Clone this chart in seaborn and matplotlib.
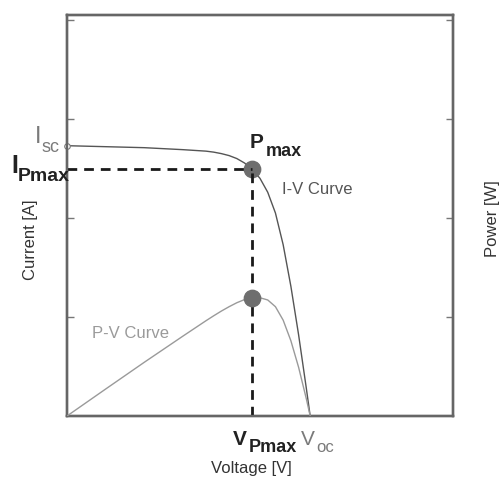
import matplotlib
matplotlib.use("Agg")
import matplotlib.pyplot as plt
import seaborn as sns
import pandas as pd

# I-V characteristic of the cell
voltage = [0.0, 0.5, 1.0, 1.5, 1.8, 1.9, 2.0, 2.1, 2.2, 2.3, 2.4, 2.5, 2.6, 2.7, 2.8, 2.9, 3.0, 3.1, 3.15]
current = [2.73, 2.72, 2.71, 2.69, 2.675, 2.665, 2.65, 2.63, 2.60, 2.555, 2.49, 2.40, 2.26, 2.05, 1.73, 1.31, 0.82, 0.28, 0.0]
# P-V characteristic
power = [0.0, 1.36, 2.71, 4.03, 4.81, 5.06, 5.30, 5.52, 5.72, 5.88, 5.98, 5.97, 5.86, 5.52, 4.84, 3.80, 2.46, 0.87, 0.0]

# Operating points
v_pmax = 2.4
i_pmax = 2.49
p_max = 5.98
i_sc = 2.73
v_oc = 3.15

x_ticks = [1, 2, 3, 4]
i_ticks = [1, 2, 3, 4]
p_ticks = [5, 10, 15, 20]

iv = pd.DataFrame({"Voltage": voltage, "Current": current})
pv = pd.DataFrame({"Voltage": voltage, "Power": power})

sns.set_theme(style="white")
plt.rcParams["font.family"] = ["Liberation Sans", "DejaVu Sans"]

W, H = 501, 478
fig = plt.figure(figsize=(W / 100, H / 100), dpi=100)
ax = fig.add_axes([67 / W, 1 - 416 / H, (453 - 67) / W, (416 - 15) / H])
ax2 = ax.twinx()

spine_c = "#666666"
for a in (ax, ax2):
    for s in a.spines.values():
        s.set_color(spine_c)
        s.set_linewidth(1.7)
    a.set_facecolor("none")

ax.set_xlim(0, 5)
ax.set_ylim(0, 4.05)
ax2.set_ylim(0, 20.25)

ax.set_xticks(x_ticks)
ax.set_yticks(i_ticks)
ax2.set_yticks(p_ticks)
ax.tick_params(axis="both", direction="in", length=5, width=1, color="#777777",
               labelbottom=False, labelleft=False)
ax2.tick_params(axis="y", direction="in", length=5, width=1, color="#777777",
                labelright=False)

# Curves
sns.lineplot(data=iv, x="Voltage", y="Current", ax=ax, color="#555555",
             linewidth=1.0, sort=False, zorder=3)
sns.lineplot(data=pv, x="Voltage", y="Power", ax=ax2, color="#9a9a9a",
             linewidth=1.0, sort=False, zorder=3)
ax.set_xlabel("")
ax.set_ylabel("")
ax2.set_ylabel("")

# Maximum power point markers
sns.scatterplot(x=[v_pmax], y=[i_pmax], ax=ax, s=140, color="#6e6e6e",
                edgecolor="#6e6e6e", zorder=4)
sns.scatterplot(x=[v_pmax], y=[p_max], ax=ax2, s=140, color="#6e6e6e",
                edgecolor="#6e6e6e", zorder=4)
ax.plot([0], [i_sc], marker="o", ms=4, mfc="white", mec="#777777", mew=0.8,
        clip_on=False, zorder=6)

# Dashed guides to the MPP
ax.plot([0, v_pmax], [i_pmax, i_pmax], ls=(0, (3.5, 2.5)), color="#1a1a1a",
        lw=2.0, zorder=5)
ax.plot([v_pmax, v_pmax], [0, i_pmax], ls=(0, (3.5, 2.5)), color="#1a1a1a",
        lw=2.0, zorder=5)


def ftxt(x, y, s, **kw):
    fig.text(x / W, 1 - y / H, s, **kw)


dark = "#222222"
grey = "#7a7a7a"

# Symbol labels with subscripts
ftxt(35, 143, "I", fontsize=17, color=grey, va="baseline", ha="left")
ftxt(41, 152, "sc", fontsize=13, color=grey, va="baseline", ha="left")

ftxt(11, 173, "I", fontsize=18, color=dark, va="baseline", ha="left", fontweight="bold")
ftxt(18, 181, "Pmax", fontsize=14, color=dark, va="baseline", ha="left", fontweight="bold")

ftxt(250, 148, "P", fontsize=15, color=dark, va="baseline", ha="left", fontweight="bold")
ftxt(266, 156, "max", fontsize=13, color=dark, va="baseline", ha="left", fontweight="bold")

ftxt(233, 445, "V", fontsize=15, color=dark, va="baseline", ha="left", fontweight="bold")
ftxt(249, 452, "Pmax", fontsize=13, color=dark, va="baseline", ha="left", fontweight="bold")

ftxt(301, 445, "V", fontsize=15, color=grey, va="baseline", ha="left")
ftxt(316, 452, "oc", fontsize=12, color=grey, va="baseline", ha="left")

# Curve names
ftxt(282, 190, "I-V Curve", fontsize=12, color="#555555", va="center", ha="left")
ftxt(92, 333, "P-V Curve", fontsize=12, color="#9a9a9a", va="center", ha="left")

# Axis titles
ftxt(251, 468, "Voltage [V]", fontsize=12, color="#333333", va="center", ha="center")
ftxt(30, 240, "Current [A]", fontsize=12, color="#333333", va="center", ha="center",
     rotation=90)
ftxt(493, 219, "Power [W]", fontsize=12, color="#333333", va="center", ha="center",
     rotation=90)

fig.savefig("out.png", dpi=100, facecolor="white")
